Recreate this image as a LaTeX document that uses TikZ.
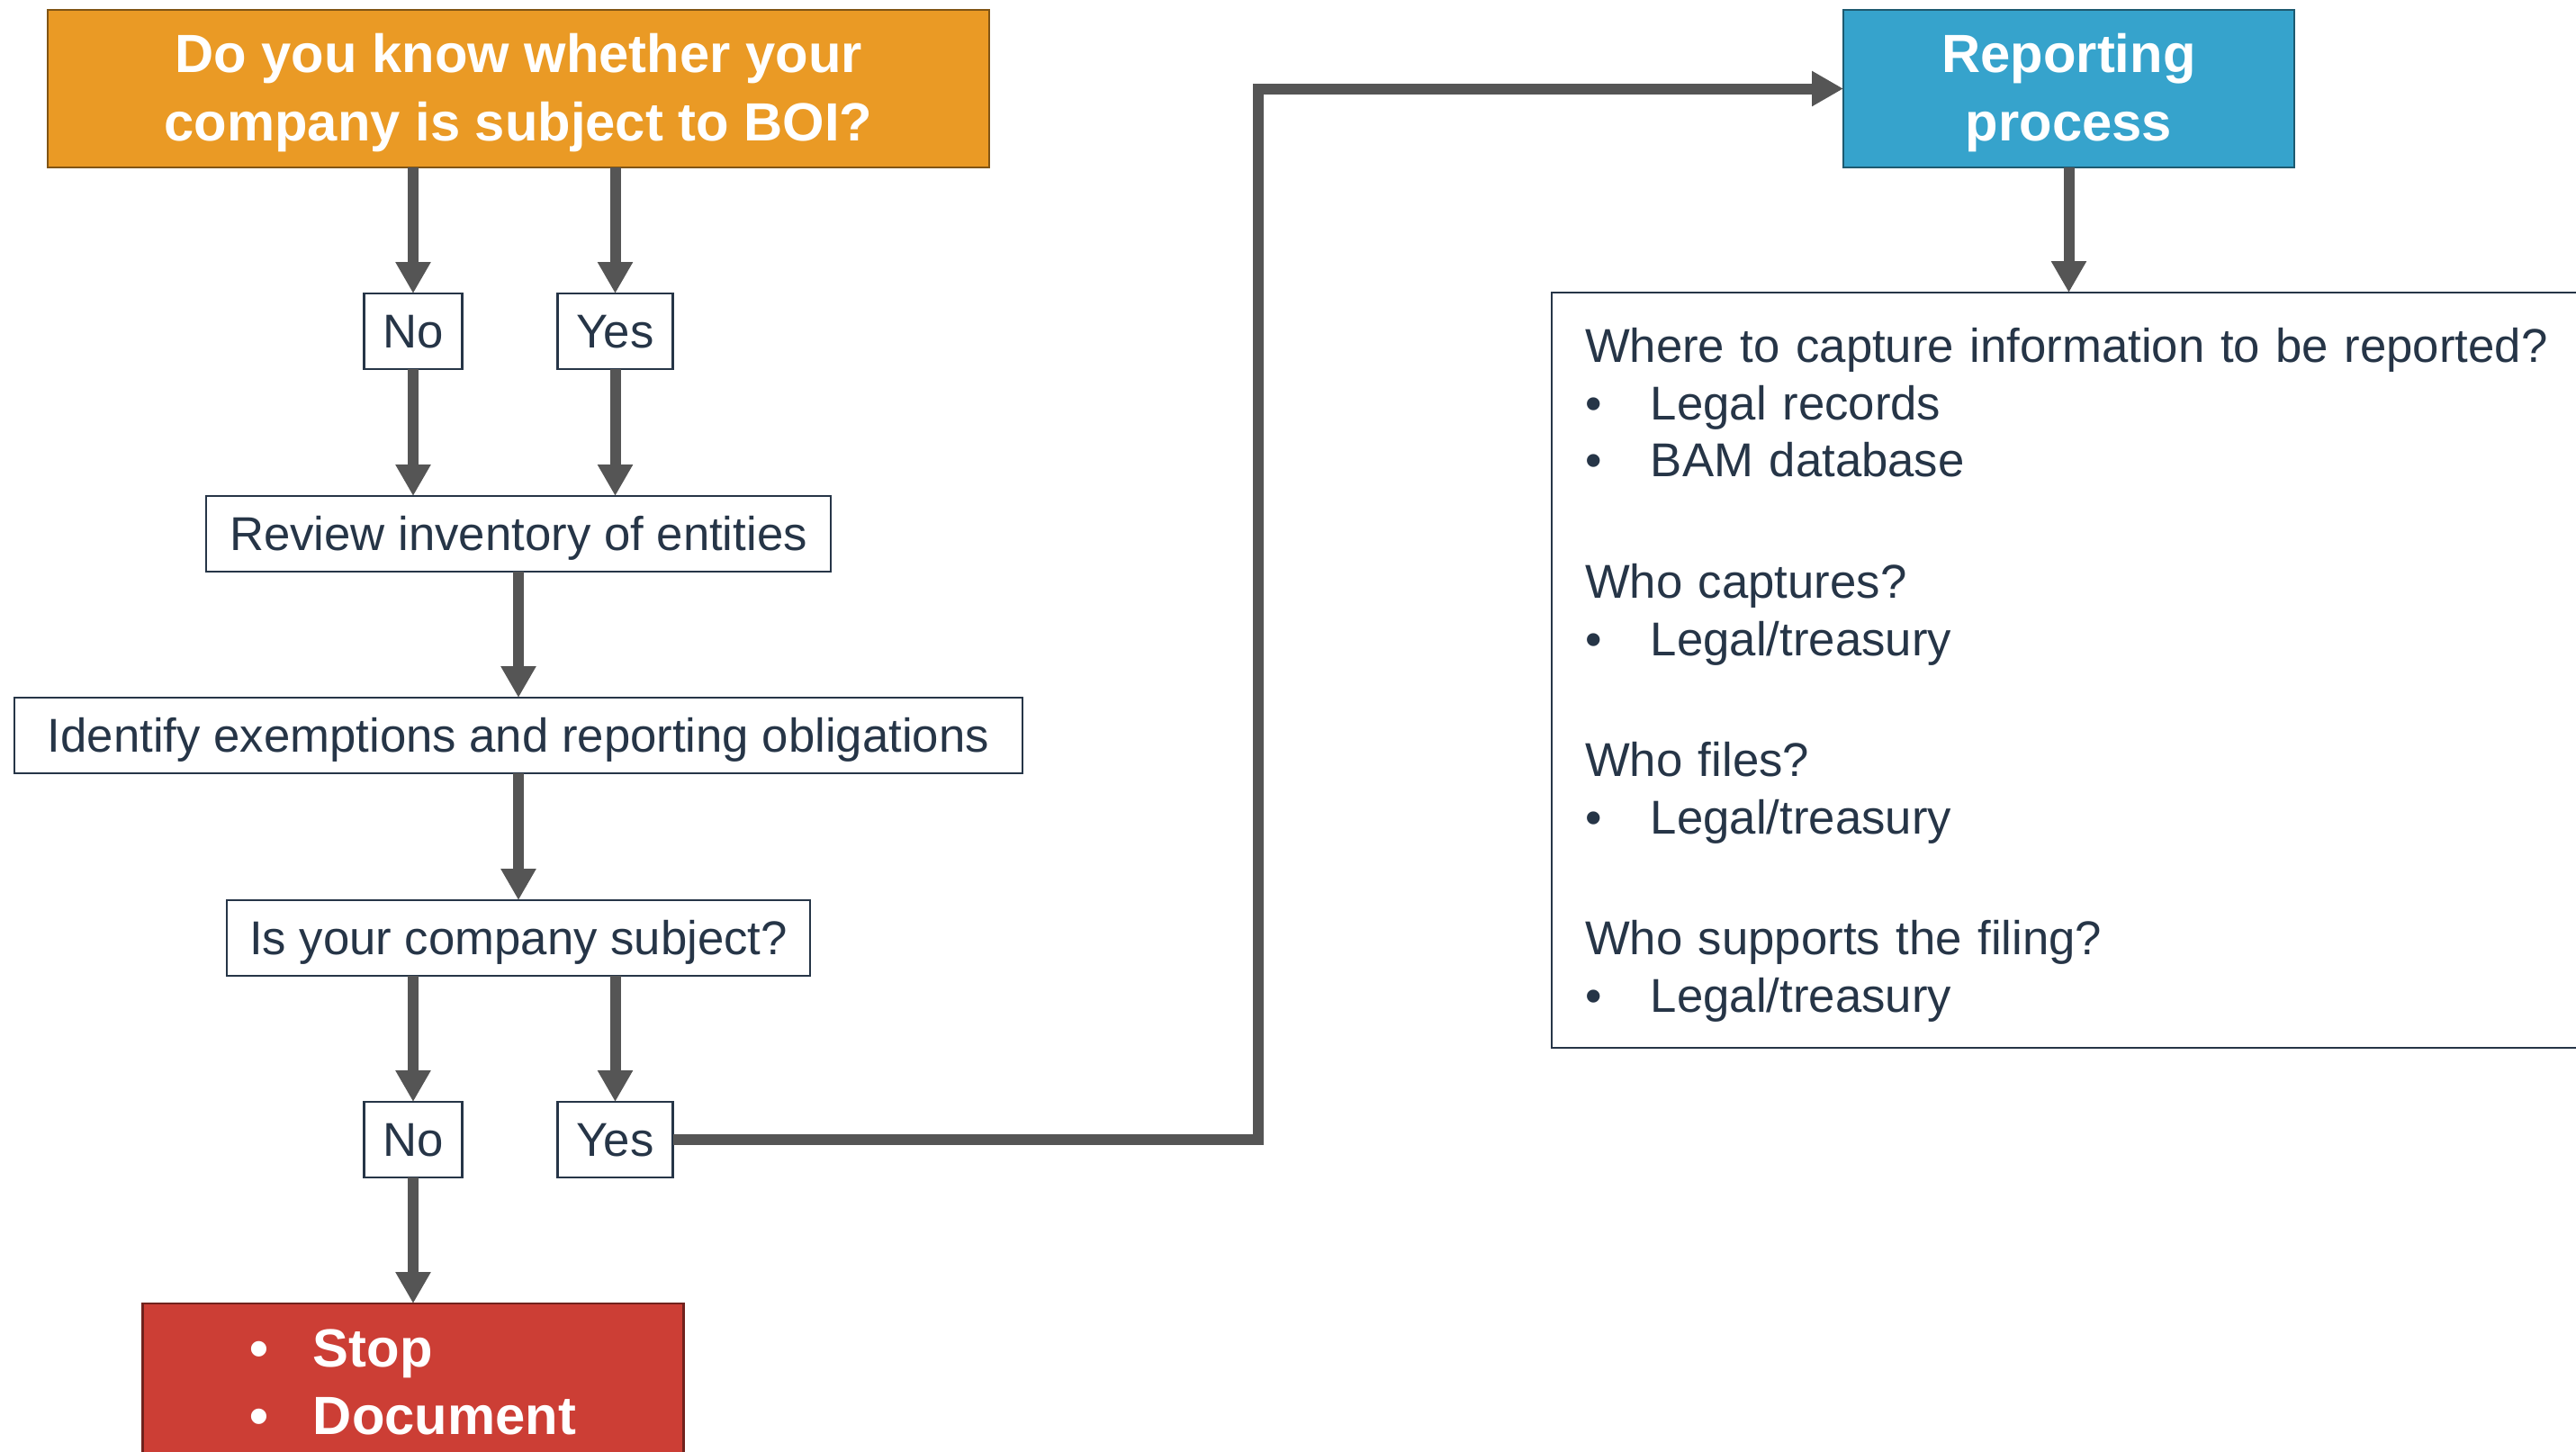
\documentclass[tikz,border=0pt]{standalone}
\usepackage{fontspec}
\setmainfont{Liberation Sans}
\usetikzlibrary{positioning,arrows.meta}
\definecolor{boiOr}{HTML}{EA9A25}
\definecolor{boiBl}{HTML}{36A3CC}
\definecolor{boiRd}{HTML}{CC3E35}
\definecolor{boiTx}{HTML}{263547}
\definecolor{boiLn}{HTML}{555555}
\newcommand{\boibul}[1][0.73cm]{\makebox[#1][l]{\textbullet}}

\begin{document}
\begin{tikzpicture}[
  every node/.style={font=\fontsize{15}{18}\selectfont, text=boiTx},
  head/.style={rectangle, line width=0.6pt, minimum height=1.75cm, align=center, outer sep=0pt,
               inner sep=0pt, text=white, font=\fontsize{17}{21.5}\selectfont\bfseries},
  plain/.style={rectangle, draw=boiTx, line width=0.6pt, fill=white, outer sep=0pt,
                minimum height=0.84cm, inner sep=0pt, text height=13.9pt, text depth=3.2pt},
  arr/.style={-{Triangle[length=0.35cm,width=0.37cm]}, line width=0.12cm, boiLn}
]
  \useasboundingbox (0,0) rectangle (28.62,-16.13);
  % left column
  \node[head, fill=boiOr, draw=boiOr!55!black, minimum width=10.46cm] (know) at (5.76,-0.985)
        {\rule{0pt}{0.52cm}Do you know whether your\\ company is subject to BOI?};
  \node[plain, minimum width=1.09cm, below=1.4cm of know, xshift=-1.17cm] (no1) {No};
  \node[plain, minimum width=1.28cm, right=1.06cm of no1] (yes1) {Yes};
  \node[plain, minimum width=6.94cm, below=3.65cm of know] (review) {Review inventory of entities};
  \node[plain, minimum width=11.2cm, below=1.4cm of review] (ident) {Identify exemptions and reporting obligations};
  \node[plain, minimum width=6.48cm, below=1.41cm of ident] (subj) {Is your company subject?};
  \node[plain, minimum width=1.09cm, below=1.4cm of subj, xshift=-1.17cm] (no2) {No};
  \node[plain, minimum width=1.28cm, right=1.06cm of no2] (yes2) {Yes};
  \node[head, fill=boiRd, draw=boiRd!55!black, minimum width=6.01cm, align=left, below=1.4cm of no2] (stop)
        {\boibul[0.7cm]Stop\\ \boibul[0.7cm]Document};
  % right column
  \node[head, fill=boiBl, draw=boiBl!55!black, minimum width=5.01cm, right=9.49cm of know] (rep)
        {\rule{0pt}{0.52cm}Reporting\\ process};
  \node[plain, minimum width=11.49cm, minimum height=8.39cm, text width=10.75cm, align=left,
        text height=, text depth=, font=\fontsize{15}{18.1}\selectfont, below=1.39cm of rep] (info)
        {\rule{0pt}{0.49cm}Where to capture information to be reported?\\
         \boibul Legal records\\
         \boibul BAM database\\[0.71cm]
         Who captures?\\
         \boibul Legal/treasury\\[0.71cm]
         Who files?\\
         \boibul Legal/treasury\\[0.71cm]
         Who supports the filing?\\
         \boibul Legal/treasury};
  \coordinate[left=6.5cm of rep.west] (turn);

  \draw[arr] (no1 |- know.south) -- (no1);
  \draw[arr] (yes1 |- know.south) -- (yes1);
  \draw[arr] (no1) -- (no1 |- review.north);
  \draw[arr] (yes1) -- (yes1 |- review.north);
  \draw[arr] (review) -- (ident);
  \draw[arr] (ident) -- (subj);
  \draw[arr] (no2 |- subj.south) -- (no2);
  \draw[arr] (yes2 |- subj.south) -- (yes2);
  \draw[arr] (no2) -- (stop);
  \draw[arr] (yes2) -| (turn) -- (rep);
  \draw[arr] (rep) -- (info);
\end{tikzpicture}
\end{document}
